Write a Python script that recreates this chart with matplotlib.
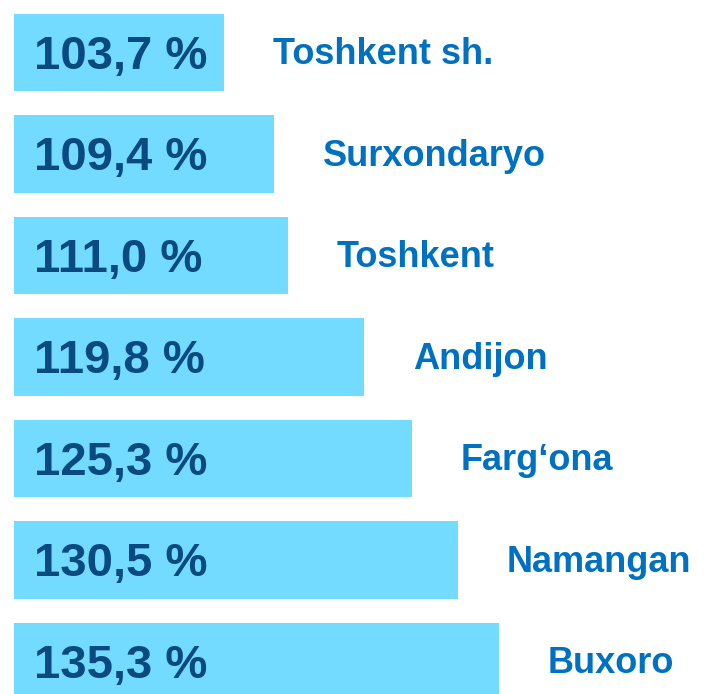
import matplotlib
matplotlib.use("Agg")
import matplotlib.pyplot as plt

regions = ["Toshkent sh.", "Surxondaryo", "Toshkent", "Andijon", "Farg\u2018ona", "Namangan", "Buxoro"]
values = [103.7, 109.4, 111.0, 119.8, 125.3, 130.5, 135.3]

BAR_COLOR = "#72DBFF"
VALUE_COLOR = "#0B4A80"
LABEL_COLOR = "#0070C0"
BASE = 79.6

plt.rcParams['font.family'] = ['Liberation Sans', 'DejaVu Sans']

fig = plt.figure(figsize=(7.10, 6.94), dpi=100)
ax = fig.add_axes([0, 0, 1, 1])
ax.set_axis_off()

ypos = list(range(len(values)))
widths = [v - BASE for v in values]
ax.barh(ypos, widths, left=BASE, height=0.76, color=BAR_COLOR)

for y, v, name in zip(ypos, values, regions):
    ax.annotate(f"{v:.1f} %".replace(".", ","), xy=(BASE, y), xytext=(14, -3),
                textcoords="offset points", ha="left", va="center",
                fontsize=34, fontweight="bold", color=VALUE_COLOR)
    ax.annotate(name, xy=(v, y), xytext=(35, -1.5),
                textcoords="offset points", ha="left", va="center",
                fontsize=26, fontweight="bold", color=LABEL_COLOR)

ax.set_xlim(77.96, 77.96 + 710 / 8.71)
ax.set_ylim(6.32, -0.517)

fig.savefig("out.png", dpi=100)
